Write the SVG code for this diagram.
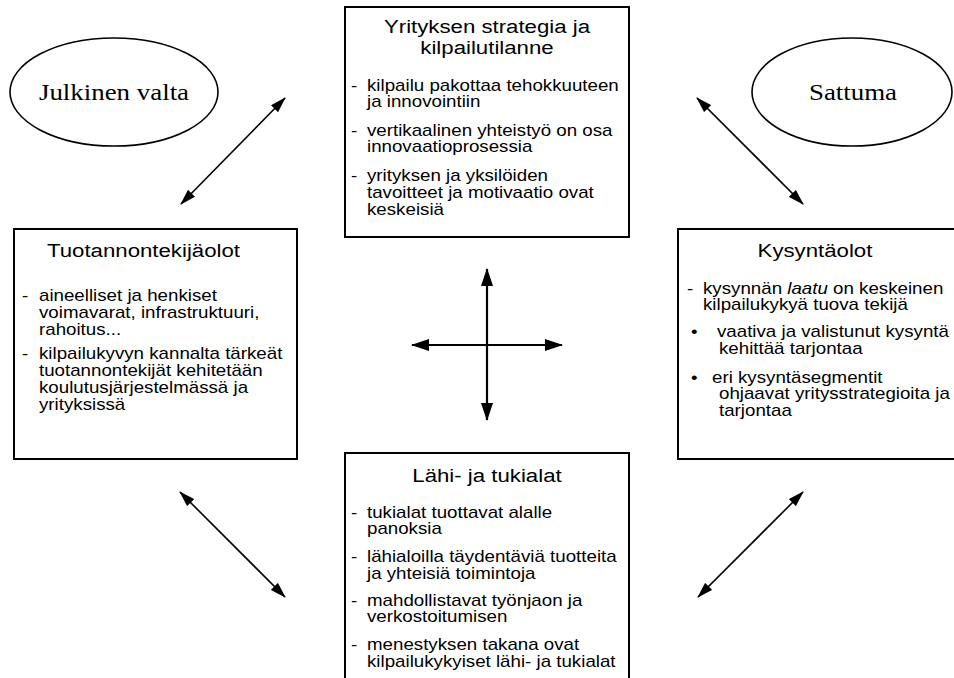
<svg xmlns="http://www.w3.org/2000/svg" width="954" height="678" viewBox="0 0 954 678">
  <style>
    .box { fill: #ffffff; stroke: #000000; stroke-width: 2; }
    .oval { fill: #ffffff; stroke: #000000; stroke-width: 1.6; }
    .ttl { font-family: "Liberation Sans", Arial, sans-serif; font-size: 19px; fill: #000000; }
    .txt { font-family: "Liberation Sans", Arial, sans-serif; font-size: 16px; fill: #000000; }
    .ser { font-family: "Liberation Serif", "Times New Roman", serif; font-size: 23px; fill: #000000; }
    .mid { text-anchor: middle; }
    .link { fill: none; stroke: #000000; stroke-width: 1.6; marker-start: url(#tip); marker-end: url(#tip); }
    .axis { fill: none; stroke: #000000; stroke-width: 2.2; marker-start: url(#tipBig); marker-end: url(#tipBig); }
  </style>
  <defs>
    <marker id="tip" viewBox="0 0 16 10" refX="15" refY="5" markerWidth="16" markerHeight="10" markerUnits="userSpaceOnUse" orient="auto-start-reverse">
      <path d="M0,0 L16,5 L0,10 Z" fill="#000000"/>
    </marker>
    <marker id="tipBig" viewBox="0 0 18 12" refX="17" refY="6" markerWidth="18" markerHeight="12" markerUnits="userSpaceOnUse" orient="auto-start-reverse">
      <path d="M0,0 L18,6 L0,12 Z" fill="#000000"/>
    </marker>
  </defs>

  <rect width="954" height="678" fill="#ffffff"/>

  <!-- Government -->
  <g id="julkinen-valta">
    <ellipse class="oval" cx="114" cy="92" rx="104" ry="54"/>
    <g transform="scale(1.17 1)">
      <text class="ser mid" x="97.44" y="100">Julkinen valta</text>
    </g>
  </g>

  <!-- Chance -->
  <g id="sattuma">
    <ellipse class="oval" cx="852" cy="92" rx="100" ry="54"/>
    <g transform="scale(1.17 1)">
      <text class="ser mid" x="729.06" y="100">Sattuma</text>
    </g>
  </g>

  <!-- Firm strategy and rivalry (text is drawn 1.17x wide) -->
  <g id="strategia">
    <rect class="box" x="345" y="7" width="284" height="230"/>
    <g transform="scale(1.17 1)">
      <text class="ttl mid" x="416.24" y="33">Yrityksen strategia ja<tspan x="416.24" dy="21">kilpailutilanne</tspan></text>
      <text class="txt" x="300" y="91">-</text>
      <text class="txt" x="313.68" y="91">kilpailu pakottaa tehokkuuteen<tspan x="313.68" dy="16">ja innovointiin</tspan></text>
      <text class="txt" x="300" y="136">-</text>
      <text class="txt" x="313.68" y="136">vertikaalinen yhteistyö on osa<tspan x="313.68" dy="16">innovaatioprosessia</tspan></text>
      <text class="txt" x="300" y="181">-</text>
      <text class="txt" x="313.68" y="181">yrityksen ja yksilöiden<tspan x="313.68" dy="17">tavoitteet ja motivaatio ovat</tspan><tspan x="313.68" dy="17">keskeisiä</tspan></text>
    </g>
  </g>

  <!-- Factor conditions -->
  <g id="tuotannontekijaolot">
    <rect class="box" x="14" y="229" width="283" height="230"/>
    <g transform="scale(1.17 1)">
      <text class="ttl mid" x="122.65" y="257">Tuotannontekijäolot</text>
      <text class="txt" x="18.8" y="301">-</text>
      <text class="txt" x="33.33" y="301">aineelliset ja henkiset<tspan x="33.33" dy="17">voimavarat, infrastruktuuri,</tspan><tspan x="33.33" dy="17">rahoitus...</tspan></text>
      <text class="txt" x="18.8" y="359">-</text>
      <text class="txt" x="33.33" y="359">kilpailukyvyn kannalta tärkeät<tspan x="33.33" dy="17">tuotannontekijät kehitetään</tspan><tspan x="33.33" dy="17">koulutusjärjestelmässä ja</tspan><tspan x="33.33" dy="17">yrityksissä</tspan></text>
    </g>
  </g>

  <!-- Demand conditions -->
  <g id="kysyntaolot">
    <rect class="box" x="678" y="229" width="290" height="230"/>
    <g transform="scale(1.17 1)">
      <text class="ttl mid" x="696.58" y="257">Kysyntäolot</text>
      <text class="txt" x="587.18" y="294">-</text>
      <text class="txt" x="600.85" y="294">kysynnän <tspan font-style="italic">laatu</tspan> on keskeinen<tspan x="600.85" dy="16">kilpailukykyä tuova tekijä</tspan></text>
      <text class="txt" x="590.6" y="337">•</text>
      <text class="txt" x="612.82" y="337">vaativa ja valistunut kysyntä<tspan x="614.53" dy="17">kehittää tarjontaa</tspan></text>
      <text class="txt" x="590.6" y="383">•</text>
      <text class="txt" x="608.55" y="383">eri kysyntäsegmentit<tspan x="614.53" dy="16">ohjaavat yritysstrategioita ja</tspan><tspan x="614.53" dy="17">tarjontaa</tspan></text>
    </g>
  </g>

  <!-- Related and supporting industries -->
  <g id="lahi-ja-tukialat">
    <rect class="box" x="345" y="453" width="284" height="240"/>
    <g transform="scale(1.17 1)">
      <text class="ttl mid" x="416.24" y="482">Lähi- ja tukialat</text>
      <text class="txt" x="300" y="518">-</text>
      <text class="txt" x="313.68" y="518">tukialat tuottavat alalle<tspan x="313.68" dy="16">panoksia</tspan></text>
      <text class="txt" x="300" y="562">-</text>
      <text class="txt" x="313.68" y="562">lähialoilla täydentäviä tuotteita<tspan x="313.68" dy="17">ja yhteisiä toimintoja</tspan></text>
      <text class="txt" x="300" y="606">-</text>
      <text class="txt" x="313.68" y="606">mahdollistavat työnjaon ja<tspan x="313.68" dy="16">verkostoitumisen</tspan></text>
      <text class="txt" x="300" y="650">-</text>
      <text class="txt" x="313.68" y="650">menestyksen takana ovat<tspan x="313.68" dy="17">kilpailukykyiset lähi- ja tukialat</tspan></text>
    </g>
  </g>

  <!-- Two-way influences -->
  <g id="connectors">
    <line class="link" x1="181" y1="204" x2="285" y2="98"/>
    <line class="link" x1="697" y1="98" x2="803" y2="204"/>
    <line class="link" x1="180" y1="492" x2="285" y2="597"/>
    <line class="link" x1="803" y1="492" x2="698" y2="597"/>
    <line class="axis" x1="487" y1="269" x2="487" y2="420"/>
    <line class="axis" x1="412" y1="345" x2="562" y2="345"/>
  </g>
</svg>
